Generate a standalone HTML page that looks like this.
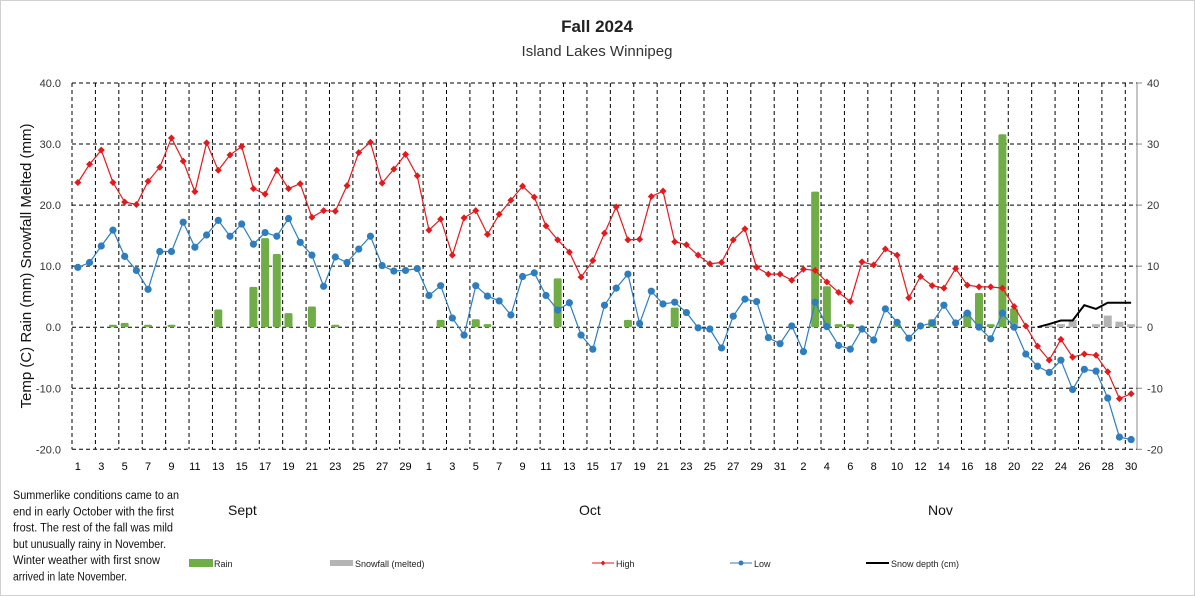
<!DOCTYPE html>
<html><head><meta charset="utf-8"><style>
html,body{margin:0;padding:0;background:#fff}
svg{display:block}
text{font-family:"Liberation Sans",sans-serif}
</style></head><body>
<svg id="s" width="1195" height="596" viewBox="0 0 1195 596" xmlns="http://www.w3.org/2000/svg"></svg>
<script>
const hi=[23.7,26.7,29,23.7,20.5,20.1,23.9,26.2,31,27.2,22.2,30.2,25.7,28.2,29.6,22.7,21.8,25.7,22.7,23.5,18,19.1,19,23.2,28.6,30.3,23.6,25.9,28.3,24.8,
15.9,17.7,11.8,17.9,19.1,15.2,18.5,20.8,23.1,21.3,16.6,14.3,12.3,8.2,10.9,15.4,19.7,14.3,14.4,21.4,22.3,14,13.5,11.8,10.4,10.6,14.3,16.1,9.8,8.7,8.7,
7.7,9.5,9.3,7.4,5.7,4.2,10.7,10.2,12.8,11.8,4.8,8.3,6.8,6.4,9.6,6.9,6.6,6.6,6.4,3.4,0.2,-3.1,-5.4,-2,-4.9,-4.4,-4.6,-7.3,-11.7,-10.9];
const lo=[9.8,10.6,13.3,15.9,11.6,9.3,6.2,12.4,12.4,17.2,13.1,15.1,17.5,14.9,16.9,13.6,15.5,14.9,17.8,13.9,11.8,6.7,11.5,10.6,12.8,14.9,10.1,9.2,9.3,9.6,
5.2,6.8,1.5,-1.3,6.8,5.1,4.3,2,8.3,8.9,5.2,2.8,4,-1.3,-3.6,3.6,6.4,8.7,0.6,5.9,3.8,4.1,2.4,-0.1,-0.3,-3.4,1.8,4.6,4.2,-1.7,-2.7,
0.2,-4,4.1,0.1,-3,-3.6,-0.3,-2.1,3,0.8,-1.8,0.2,0.7,3.6,0.7,2.3,0,-1.9,2.3,0,-4.4,-6.4,-7.4,-5.4,-10.2,-6.9,-7.2,-11.6,-18,-18.4];
const rain={4:0.4,5:0.7,7:0.4,9:0.4,13:2.9,16:6.6,17:14.6,18:12,19:2.3,21:3.4,23:0.4,
32:1.2,35:1.3,36:0.5,42:8,48:1.2,52:3.2,
64:22.2,65:6.7,66:0.5,67:0.5,71:0.5,74:1.3,77:2.6,78:5.6,79:0.5,80:31.6,81:3.1};
const snow={81:0.6,84:0.3,85:0.5,86:1.2,88:0.5,89:1.9,90:0.9,91:0.5};
const depth=[[83,0],[84,0.5],[85,1.1],[86,1.1],[87,3.6],[88,3.0],[89,4.0],[90,4.0],[91,4.0]];
const L=72,R=1137,T=83,B=449.3,W=(R-L)/91;
const X=i=>L+(i-0.5)*W, Y=v=>T+(40-v)*(B-T)/60;
let s='<rect x="0.5" y="0.5" width="1194" height="595" fill="#fff" stroke="#d0d0d0"/>';
// grid
for(let v=-20;v<=40;v+=10){s+=`<line x1="${L}" x2="${R}" y1="${Y(v)}" y2="${Y(v)}" stroke="#000" stroke-width="1" stroke-dasharray="4,3"/>`;
s+=`<text x="61" y="${Y(v)+4}" font-size="11" text-anchor="end" fill="#333">${v.toFixed(1)}</text>`;
s+=`<line x1="${R}" x2="${R+5}" y1="${Y(v)}" y2="${Y(v)}" stroke="#888"/>`;
s+=`<text x="${R+10}" y="${Y(v)+4}" font-size="11" fill="#333">${v}</text>`;}
for(let k=0;k<=45;k++){const x=L+k*2*W;s+=`<line x1="${x}" x2="${x}" y1="${T}" y2="${B}" stroke="#000" stroke-width="1" stroke-dasharray="4,3"/>`;}
s+=`<line x1="${R}" x2="${R}" y1="${T}" y2="${B}" stroke="#888"/>`;
// x labels
const lab=[];for(let d=1;d<=30;d++)lab.push(d);for(let d=1;d<=31;d++)lab.push(d);for(let d=1;d<=30;d++)lab.push(d);
for(let i=0;i<91;i+=2)s+=`<text x="${X(i+1)}" y="470" font-size="11" text-anchor="middle" fill="#000">${lab[i]}</text>`;
// bars
for(const k in rain){const v=rain[k];s+=`<rect x="${X(+k)-4}" y="${Y(v)}" width="8" height="${Y(0)-Y(v)}" rx="1.5" fill="#70ad47"/>`;}
for(const k in snow){const v=snow[k];s+=`<rect x="${X(+k)-4}" y="${Y(v)}" width="8" height="${Y(0)-Y(v)}" fill="#b4b4b4"/>`;}
// lines
const pts=a=>a.map((v,i)=>`${X(i+1).toFixed(1)},${Y(v).toFixed(1)}`).join(' ');
s+=`<polyline points="${pts(hi)}" fill="none" stroke="#e31a1c" stroke-width="1.2"/>`;
hi.forEach((v,i)=>{const x=X(i+1),y=Y(v);s+=`<path d="M${x} ${y-3.5}L${x+3.5} ${y}L${x} ${y+3.5}L${x-3.5} ${y}Z" fill="#e31a1c"/>`;});
s+=`<polyline points="${pts(lo)}" fill="none" stroke="#2e7ebf" stroke-width="1.2"/>`;
lo.forEach((v,i)=>{s+=`<circle cx="${X(i+1)}" cy="${Y(v)}" r="3.6" fill="#2e7ebf"/>`;});
s+=`<polyline points="${depth.map(p=>X(p[0]).toFixed(1)+','+Y(p[1]).toFixed(1)).join(' ')}" fill="none" stroke="#000" stroke-width="2"/>`;
// titles
s+=`<text x="597" y="32" font-size="17" font-weight="bold" text-anchor="middle" fill="#222">Fall 2024</text>`;
s+=`<text x="597" y="56" font-size="15" text-anchor="middle" fill="#333">Island Lakes Winnipeg</text>`;
s+=`<text transform="translate(31,266) rotate(-90)" font-size="15" text-anchor="middle" fill="#111">Temp (C) Rain (mm) Snowfall Melted (mm)</text>`;
s+=`<text x="228" y="515" font-size="14" fill="#111">Sept</text><text x="579" y="515" font-size="14" fill="#111">Oct</text><text x="928" y="515" font-size="14" fill="#111">Nov</text>`;
const para=["Summerlike  conditions came to an","end  in early October with the first","frost. The rest of the fall was mild","but unusually rainy in November.","Winter weather  with first snow","arrived in late November."];
const lens=[166,161,160,153,147,114];
para.forEach((t,i)=>{s+=`<text x="13" y="${499+i*16.3}" font-size="11.5" textLength="${lens[i]}" lengthAdjust="spacingAndGlyphs" fill="#111">${t}</text>`;});
// legend
s+=`<rect x="189" y="559" width="24" height="8" fill="#70ad47"/><text x="214" y="567" font-size="9" fill="#222">Rain</text>`;
s+=`<rect x="330" y="560" width="23" height="6" fill="#b4b4b4"/><text x="355" y="567" font-size="9" fill="#222">Snowfall (melted)</text>`;
s+=`<line x1="592" x2="614" y1="563" y2="563" stroke="#e31a1c"/><path d="M603 560.5L605.5 563L603 565.5L600.5 563Z" fill="#e31a1c"/><text x="616" y="567" font-size="9" fill="#222">High</text>`;
s+=`<line x1="730" x2="752" y1="563" y2="563" stroke="#2e7ebf"/><circle cx="741" cy="563" r="2.5" fill="#2e7ebf"/><text x="754" y="567" font-size="9" fill="#222">Low</text>`;
s+=`<line x1="866" x2="889" y1="563" y2="563" stroke="#000" stroke-width="2"/><text x="891" y="567" font-size="9" fill="#222">Snow depth (cm)</text>`;
document.getElementById('s').innerHTML=s;
</script>
</body></html>
